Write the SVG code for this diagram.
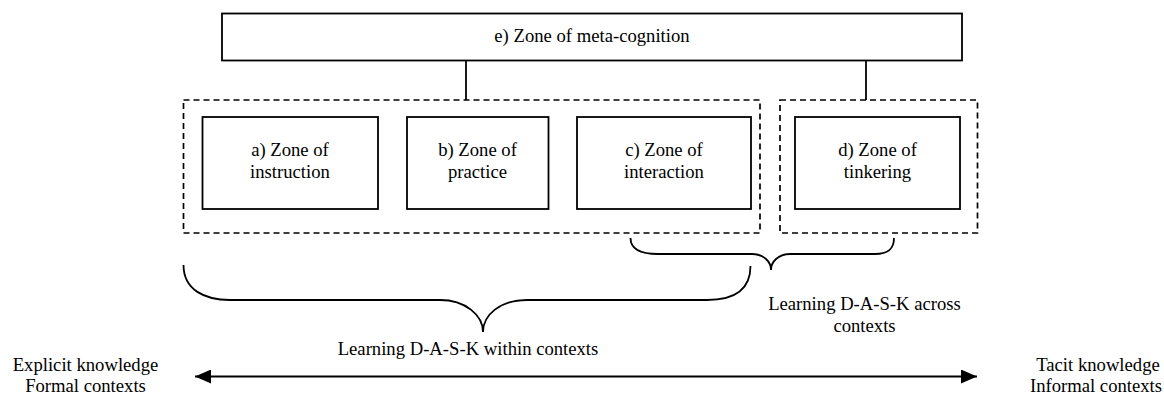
<svg xmlns="http://www.w3.org/2000/svg" width="1164" height="393" viewBox="0 0 1164 393">
<style>
.t{font-family:'Liberation Serif','Times New Roman',serif;font-size:18.67px;fill:#000;text-anchor:middle}
.box{fill:#fff;stroke:#000;stroke-width:1.8}
.dash{fill:none;stroke:#000;stroke-width:1.7;stroke-dasharray:6 4}
.ln{fill:none;stroke:#000;stroke-width:1.8}
.br{fill:none;stroke:#000;stroke-width:1.8}
</style>
<defs>
<marker id="ah" viewBox="0 0 16 14" refX="16" refY="7" markerWidth="16" markerHeight="14" markerUnits="userSpaceOnUse" orient="auto-start-reverse">
<path d="M0,0 L16,7 L0,14 Z" fill="#000"/>
</marker>
</defs>
<rect width="1164" height="393" fill="#fff"/>
<g id="connectors">
<line class="ln" x1="466" y1="60" x2="466" y2="100"/>
<line class="ln" x1="866" y1="60" x2="866" y2="100"/>
<path class="br" d="M183.5,265 C183.5,290 205,300 230,300 L440,300 C465,300 483,315 483,332 C483,315 500,300 527,300 L707,300 C735,300 750.5,290 750.5,266"/>
<path class="br" d="M630.5,238 C630.5,250 642,254 658,254 L752,254 C764,254 771,262 771,270 C771,262 778,254 790,254 L875,254 C887,254 894,250 894,238"/>
<line x1="195" y1="376.5" x2="977" y2="376.5" stroke="#000" stroke-width="2.2" marker-start="url(#ah)" marker-end="url(#ah)"/>
</g>
<g id="group-within">
<rect class="dash" x="183.5" y="100" width="576.5" height="133"/>
</g>
<g id="group-across">
<rect class="dash" x="780" y="100" width="197.5" height="133"/>
</g>
<g id="node-e">
<rect class="box" x="222" y="13.5" width="740" height="47"/>
<text class="t" x="592" y="41.5">e) Zone of meta-cognition</text>
</g>
<g id="node-a">
<rect class="box" x="202.5" y="117" width="175.5" height="92"/>
<text class="t" x="290" y="155.5">a) Zone of</text>
<text class="t" x="290" y="177.5">instruction</text>
</g>
<g id="node-b">
<rect class="box" x="407" y="117" width="141.5" height="92"/>
<text class="t" x="477.5" y="155.5">b) Zone of</text>
<text class="t" x="477.5" y="177.5">practice</text>
</g>
<g id="node-c">
<rect class="box" x="577" y="117" width="174" height="92"/>
<text class="t" x="664" y="155.5">c) Zone of</text>
<text class="t" x="664" y="177.5">interaction</text>
</g>
<g id="node-d">
<rect class="box" x="795" y="117" width="165" height="92"/>
<text class="t" x="877.5" y="155.5">d) Zone of</text>
<text class="t" x="877.5" y="177.5">tinkering</text>
</g>
<g id="label-within">
<text class="t" x="468" y="355">Learning D-A-S-K within contexts</text>
</g>
<g id="label-across">
<text class="t" x="864.5" y="310">Learning D-A-S-K across</text>
<text class="t" x="864.5" y="331.5">contexts</text>
</g>
<g id="label-left">
<text class="t" x="85.5" y="370.5">Explicit knowledge</text>
<text class="t" x="85.5" y="391.5">Formal contexts</text>
</g>
<g id="label-right">
<text class="t" x="1098" y="370.5">Tacit knowledge</text>
<text class="t" x="1096" y="391.5">Informal contexts</text>
</g>
</svg>
